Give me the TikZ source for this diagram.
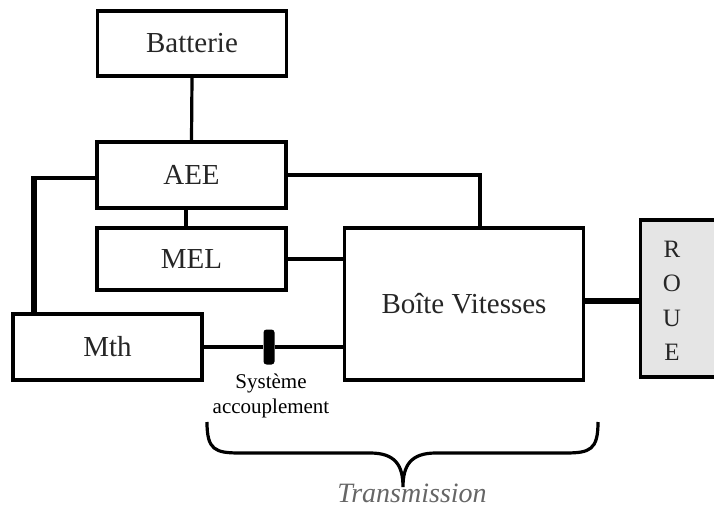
\documentclass[tikz,border=0pt]{standalone}
\usepackage{fontspec}
\setmainfont{Liberation Serif}
\usetikzlibrary{positioning}
\begin{document}
\begin{tikzpicture}[x=1pt,y=-1pt,
  bloc/.style={draw,line width=3.2pt,minimum width=189pt,minimum height=65pt,
    inner sep=0pt,text=black!85,font=\fontsize{29}{34}\selectfont},
  lien/.style={line width=3.2pt},
  gros/.style={line width=6pt}]
  \useasboundingbox (0,0) rectangle (714,510);
  \node[bloc] (batt) at (192,43.5) {Batterie};
  \node[bloc,minimum height=66pt] (aee) at (191.5,175) {AEE};
  \node[bloc,minimum height=62pt] (mel) at (191.5,259) {MEL};
  \node[bloc,minimum height=66pt] (mth) at (107.5,347) {Mth};
  \node[bloc,minimum width=239pt,minimum height=152pt] (bv) at (464,304) {Bo\^ite Vitesses};
  \node[draw,line width=3.2pt,fill=black!10,minimum width=82pt,minimum height=157pt,
    anchor=west] (roue) at (639,298.5) {};
  \node[align=center,text=black!85,font=\fontsize{25}{34.5}\selectfont] (roueTxt) at (672,301) {R\\O\\U\\E};
  \node[fill=black,minimum width=11pt,minimum height=35pt,inner sep=0pt,
    rounded corners=3pt] (embr) at (269,347) {};
  \node[align=center,font=\fontsize{21}{25}\selectfont] (embrTxt) at (271,396) {Syst\`eme\\accouplement};
  \node[text=black!60,font=\itshape\fontsize{28}{32}\selectfont] (trans) at (412,493) {Transmission};
  \draw[lien] (batt.south) -- (aee.north);
  \draw[lien] ([xshift=-5.5pt]aee.south) -- ([xshift=-5.5pt]mel.north);
  \draw[lien] ([yshift=-3pt]aee.west) -- ++(-61,0) coordinate (coin);
  \draw[gros] ([yshift=1.5pt]coin) -- (mth.north -| coin);
  \draw[lien] (aee.east) -| ([xshift=16pt]bv.north);
  \draw[lien] (mel.east) -- (bv.west |- mel.east);
  \draw[lien] (mth.east) -- (embr) -- (bv.west |- mth.east);
  \draw[gros] ([yshift=3pt]bv.east) -- ([yshift=-2.5pt]roue.west);
  \draw[lien] (207,422) .. controls (207,450) and (215,453) .. (240,453) -- (370,453)
    .. controls (395,453) and (403,465) .. (403,487)
    .. controls (403,465) and (411,453) .. (436,453) -- (565,453)
    .. controls (590,453) and (598,450) .. (598,422);
\end{tikzpicture}
\end{document}
